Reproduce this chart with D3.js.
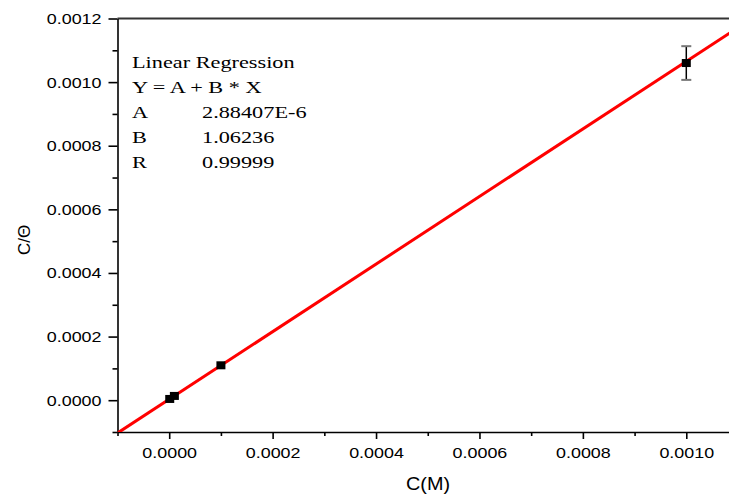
<!DOCTYPE html>
<html>
<head>
<meta charset="utf-8">
<script src="https://cdn.jsdelivr.net/npm/d3@7"></script>
<style>
  html, body { margin: 0; padding: 0; background: #fff; }
  svg { display: block; }
</style>
</head>
<body>
<svg id="chart" width="729" height="498"></svg>
<script>
// Measured points: concentration C (M) against C/θ
const concentrations = [0.000001, 0.00001, 0.0001, 0.001];
const ratios = [0.0000039, 0.0000134, 0.0001097, 0.00106];
const ratioErrors = [0, 0, 0, 0.000053];

// Fit parameters reported in the box
const fitLabels = ["A", "B", "R"];
const fitValues = ["2.88407E-6", "1.06236", "0.99999"];
const fitIntercept = 2.88407e-6;
const fitSlope = 1.06236;

const xTicks = [0, 0.0002, 0.0004, 0.0006, 0.0008, 0.0010];
const yTicks = [0, 0.0002, 0.0004, 0.0006, 0.0008, 0.0010, 0.0012];
const xMinorTicks = [-0.0001, 0.0001, 0.0003, 0.0005, 0.0007, 0.0009, 0.0011];
const yMinorTicks = [-0.0001, 0.0001, 0.0003, 0.0005, 0.0007, 0.0009, 0.0011];

const svg = d3.select("#chart");
const plotLeft = 117.5, plotRight = 738, plotTop = 18.5, plotBottom = 432;
const stretchX = 1.17;

const x = d3.scaleLinear().domain([-0.0001, 0.0011]).range([plotLeft, plotRight]);
const y = d3.scaleLinear().domain([-0.0001, 0.0012]).range([plotBottom, plotTop]);

// widen glyphs horizontally, keeping each label's anchor
function widen(sel, k) {
  sel.each(function () {
    const w = this.getComputedTextLength();
    this.setAttribute("textLength", w * k);
    this.setAttribute("lengthAdjust", "spacingAndGlyphs");
  });
}

svg.append("clipPath").attr("id", "plot")
  .append("rect").attr("x", plotLeft).attr("y", plotTop)
  .attr("width", 729 - plotLeft).attr("height", plotBottom - plotTop);

// top frame line
svg.append("line")
  .attr("x1", plotLeft).attr("x2", 729).attr("y1", plotTop).attr("y2", plotTop)
  .attr("stroke", "#333").attr("stroke-width", 2);

// bottom axis
const xAxis = svg.append("g").attr("transform", `translate(0,${plotBottom})`)
  .call(d3.axisBottom(x).tickValues(xTicks).tickFormat(d3.format(".4f")).tickSize(7).tickSizeOuter(0));
svg.append("g").attr("transform", `translate(0,${plotBottom})`)
  .call(d3.axisBottom(x).tickValues(xMinorTicks).tickFormat("").tickSize(4).tickSizeOuter(0))
  .call(g => g.select(".domain").remove());

// left axis
const yAxis = svg.append("g").attr("transform", `translate(${plotLeft},0)`)
  .call(d3.axisLeft(y).tickValues(yTicks).tickFormat(d3.format(".4f")).tickSize(9).tickSizeOuter(0));
svg.append("g").attr("transform", `translate(${plotLeft},0)`)
  .call(d3.axisLeft(y).tickValues(yMinorTicks).tickFormat("").tickSize(5).tickSizeOuter(0))
  .call(g => g.select(".domain").remove());

svg.selectAll(".domain, .tick line").attr("stroke", "#000").attr("stroke-width", 1.6);
svg.selectAll(".tick text")
  .attr("font-family", "'Liberation Sans', Arial, sans-serif")
  .attr("font-size", 15.3).attr("fill", "#000");
xAxis.selectAll(".tick text").attr("y", 15);
yAxis.selectAll(".tick text").attr("x", -16);
widen(svg.selectAll(".tick text"), stretchX);

// axis titles
const xTitle = svg.append("text")
  .attr("x", 428).attr("y", 490).attr("text-anchor", "middle")
  .attr("font-family", "'Liberation Sans', Arial, sans-serif").attr("font-size", 18)
  .text("C(M)");
widen(xTitle, 1.1);

svg.append("text")
  .attr("transform", "translate(30,240) rotate(-90)")
  .attr("text-anchor", "middle")
  .attr("font-family", "'Liberation Sans', Arial, sans-serif").attr("font-size", 17)
  .text("C/Θ");

// regression line
const plot = svg.append("g").attr("clip-path", "url(#plot)");
const xs = x.domain();
plot.append("line")
  .attr("x1", x(xs[0])).attr("y1", y(fitIntercept + fitSlope * xs[0]))
  .attr("x2", x(xs[1])).attr("y2", y(fitIntercept + fitSlope * xs[1]))
  .attr("stroke", "#f00").attr("stroke-width", 3);

// error bars
const pts = concentrations.map((c, i) => ({ c, r: ratios[i], e: ratioErrors[i] }));
const bars = svg.append("g");
pts.filter(d => d.e > 0).forEach(d => {
  bars.append("line")
    .attr("x1", x(d.c)).attr("x2", x(d.c)).attr("y1", y(d.r - d.e)).attr("y2", y(d.r + d.e))
    .attr("stroke", "#000").attr("stroke-width", 1.5);
  [d.r - d.e, d.r + d.e].forEach(v => {
    bars.append("line")
      .attr("x1", x(d.c) - 5).attr("x2", x(d.c) + 5).attr("y1", y(v)).attr("y2", y(v))
      .attr("stroke", "#777").attr("stroke-width", 2);
  });
});

// square markers
svg.append("g").selectAll("rect").data(pts).join("rect")
  .attr("x", d => x(d.c) - 4.5).attr("y", d => y(d.r) - 4)
  .attr("width", 9).attr("height", 8).attr("fill", "#000");

// fit summary
const box = svg.append("g")
  .attr("font-family", "'Liberation Serif', 'Times New Roman', serif")
  .attr("font-size", 17).attr("fill", "#000");
const notes = [
  box.append("text").attr("x", 132).attr("y", 68).text("Linear Regression"),
  box.append("text").attr("x", 132).attr("y", 93).text("Y = A + B * X")
];
fitLabels.forEach((lab, i) => {
  notes.push(box.append("text").attr("x", 132).attr("y", 118 + i * 25).text(lab));
  notes.push(box.append("text").attr("x", 202).attr("y", 118 + i * 25).text(fitValues[i]));
});
notes.forEach(t => widen(t, 1.31));
</script>
</body>
</html>
